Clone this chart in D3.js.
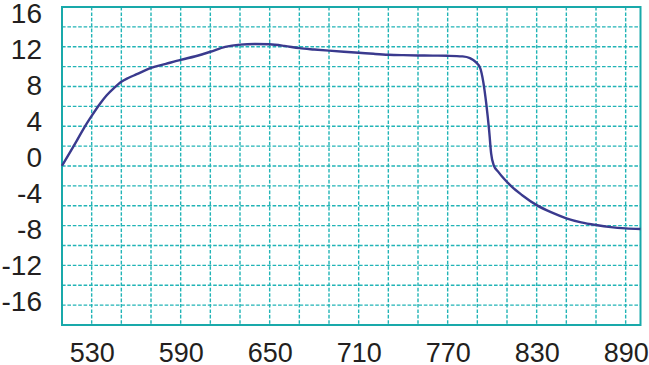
<!DOCTYPE html>
<html>
<head>
<meta charset="utf-8">
<script src="https://cdn.jsdelivr.net/npm/d3@7"></script>
<style>
  html, body { margin: 0; padding: 0; background: #ffffff; }
  svg { display: block; }
</style>
</head>
<body>
<svg id="chart" width="649" height="365"></svg>
<script>
// ---- data ----
const xValues = [510, 520, 525, 530, 535, 540, 545, 550, 555, 560, 570, 580, 590, 600, 610, 620, 630, 640, 650, 660, 670, 680, 690, 700, 710, 720, 730, 740, 750, 760, 770, 780, 785, 789, 792, 794, 796, 798, 799.3, 801, 804, 808, 813, 820, 830, 840, 850, 860, 870, 880, 890, 900];
const yValues = [-1.05, 1.75, 3.2, 4.5, 5.72, 6.78, 7.6, 8.3, 8.75, 9.12, 9.85, 10.3, 10.75, 11.15, 11.65, 12.2, 12.45, 12.52, 12.48, 12.3, 12.05, 11.9, 11.77, 11.65, 11.54, 11.42, 11.32, 11.27, 11.24, 11.22, 11.2, 11.13, 10.95, 10.5, 9.8, 8.3, 5.9, 2.8, 0.33, -0.97, -1.7, -2.5, -3.35, -4.3, -5.43, -6.25, -6.9, -7.35, -7.65, -7.88, -8.02, -8.1];
const xTickLabels = [530, 590, 650, 710, 770, 830, 890];
const yTickLabels = [16, 12, 8, 4, 0, -4, -8, -12, -16];
const xDomain = [510, 900];
const xGridStep = 20;
const yGridCount = 16;

// ---- layout ----
const svg = d3.select("#chart");
const plot = { left: 62, right: 640.5, top: 7, bottom: 325 };

const x = d3.scaleLinear().domain(xDomain).range([plot.left, plot.right]);
const y = d3.scaleLinear().domain([-16, 16]).range([300, 12.7]);

const gridColor = "#22b4b6";
const borderColor = "#19a9aa";

// vertical grid lines
const xGrid = d3.range(xDomain[0] + xGridStep, xDomain[1], xGridStep);
svg.append("g").selectAll("line").data(xGrid).join("line")
  .attr("x1", d => x(d)).attr("x2", d => x(d))
  .attr("y1", plot.top).attr("y2", plot.bottom)
  .attr("stroke", gridColor).attr("stroke-width", 1.4)
  .attr("stroke-dasharray", "3.6,1.8");

// horizontal grid lines (evenly divide the frame)
const yGridScale = d3.scaleLinear().domain([0, yGridCount]).range([plot.top, plot.bottom]);
svg.append("g").selectAll("line").data(d3.range(1, yGridCount)).join("line")
  .attr("x1", plot.left).attr("x2", plot.right)
  .attr("y1", d => yGridScale(d)).attr("y2", d => yGridScale(d))
  .attr("stroke", gridColor).attr("stroke-width", 1.4)
  .attr("stroke-dasharray", "3.6,1.8");

// frame
svg.append("rect")
  .attr("x", plot.left).attr("y", plot.top)
  .attr("width", plot.right - plot.left).attr("height", plot.bottom - plot.top)
  .attr("fill", "none").attr("stroke", borderColor).attr("stroke-width", 2);

// line
const data = xValues.map((d, i) => [d, yValues[i]]);
svg.append("path")
  .datum(data)
  .attr("fill", "none")
  .attr("stroke", "#3a3a8e")
  .attr("stroke-width", 2.4)
  .attr("stroke-linejoin", "round")
  .attr("d", d3.line().x(d => x(d[0])).y(d => y(d[1])).curve(d3.curveMonotoneX));

// axes
const yAxis = svg.append("g")
  .attr("transform", "translate(42,0)")
  .call(d3.axisLeft(y).tickValues(yTickLabels).tickSize(0).tickPadding(0).tickFormat(d => d < 0 ? "-" + Math.abs(d) : String(d)));
yAxis.select(".domain").remove();
yAxis.selectAll("text")
  .attr("font-family", "'Liberation Sans', Arial, sans-serif")
  .attr("font-size", 28).attr("fill", "#231f20").attr("dy", "0.36em");

const xAxis = svg.append("g")
  .attr("transform", `translate(0,${plot.bottom})`)
  .call(d3.axisBottom(x).tickValues(xTickLabels).tickSize(0).tickPadding(17.5));
xAxis.select(".domain").remove();
xAxis.selectAll("text")
  .attr("font-family", "'Liberation Sans', Arial, sans-serif")
  .attr("font-size", 27).attr("fill", "#231f20");
</script>
</body>
</html>
